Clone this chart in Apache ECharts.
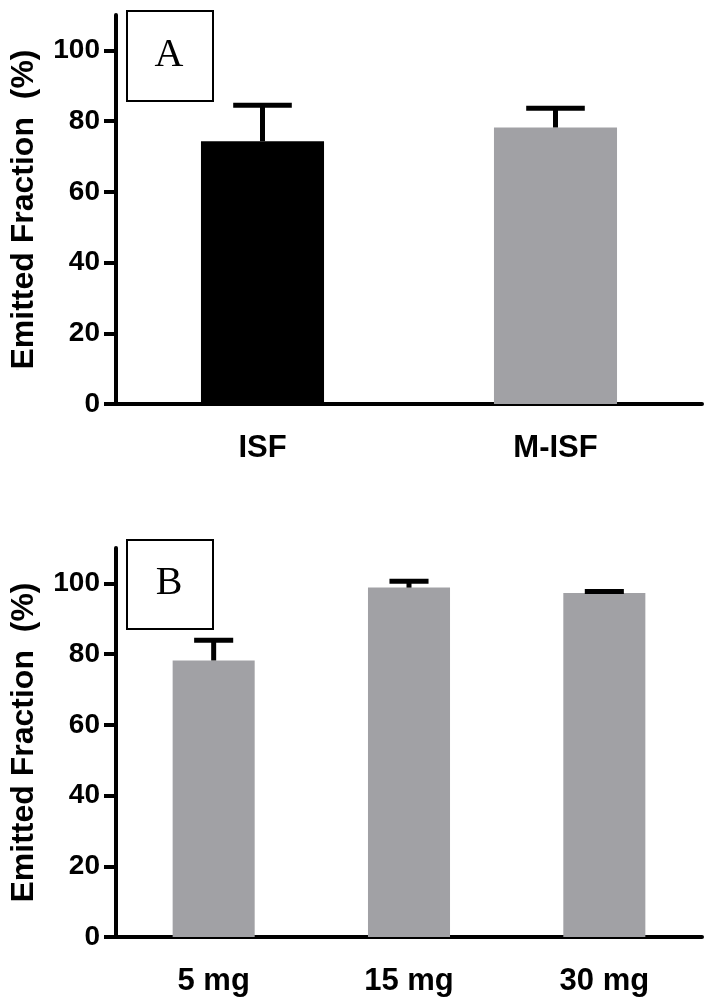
<!DOCTYPE html>
<html>
<head>
<meta charset="utf-8" />
<title>Emitted Fraction</title>
<script type="text/javascript" src="https://cdn.jsdelivr.net/npm/echarts@6/dist/echarts.min.js"></script>
<style>
  html, body { margin: 0; padding: 0; background: #fff; }
  #main { width: 711px; height: 1008px; }
</style>
</head>
<body>
<div id="main"></div>
<script>
// panel A
var catsA = ['ISF', 'M-ISF'];
var meanA = [74.3, 78.2];
var sdA = [10.2, 5.4];
var colorA = ['#000000', '#a1a1a5'];

// panel B
var catsB = ['5 mg', '15 mg', '30 mg'];
var meanB = [78.2, 98.8, 97.3];
var sdB = [5.7, 1.8, 0.4];

var yTicks = [0, 20, 40, 60, 80, 100];

var font = 'Liberation Sans, Arial, sans-serif';
var chart = echarts.init(document.getElementById('main'));

function xAxisOf(idx, cats) {
  return {
    type: 'category', gridIndex: idx, data: cats,
    axisLine: { lineStyle: { color: '#000', width: 4 } },
    axisTick: { alignWithLabel: true, length: 12, lineStyle: { color: '#000', width: 4 } },
    axisLabel: { color: '#000', fontFamily: font, fontWeight: 'bold', fontSize: 31, margin: 29 }
  };
}

function yAxisOf(idx) {
  return {
    type: 'value', gridIndex: idx, min: 0, max: 110, interval: 20,
    name: 'Emitted Fraction  (%)', nameLocation: 'middle', nameGap: 76,
    nameTextStyle: { color: '#000', fontFamily: font, fontWeight: 'bold', fontSize: 32 },
    axisLine: { show: true, lineStyle: { color: '#000', width: 4 } },
    axisTick: { show: true, length: 12, customValues: yTicks, lineStyle: { color: '#000', width: 4 } },
    axisLabel: { color: '#000', fontFamily: font, fontWeight: 'bold', fontSize: 28, margin: 16, customValues: yTicks },
    splitLine: { show: false }
  };
}

// 误差线
function errorRender(params, api) {
  var i = api.value(0);
  var top = api.coord([i, api.value(1) + api.value(2)]);
  var base = api.coord([i, api.value(1)]);
  var half = api.size([1, 0])[0] * 0.1;
  var st = { stroke: '#000', lineWidth: 5 };
  return {
    type: 'group',
    children: [
      { type: 'line', shape: { x1: top[0], y1: base[1], x2: top[0], y2: top[1] }, style: st },
      { type: 'line', shape: { x1: top[0] - half, y1: top[1], x2: top[0] + half, y2: top[1] }, style: st }
    ]
  };
}

function errData(means, sds) {
  var out = [];
  for (var i = 0; i < means.length; i++) out.push([i, means[i], sds[i]]);
  return out;
}

var barsA = [];
for (var i = 0; i < meanA.length; i++) {
  barsA.push({ value: meanA[i], itemStyle: { color: colorA[i] } });
}

function boxLabel(x, y, h, txt) {
  return [
    { type: 'rect', left: x, top: y, shape: { width: 86, height: h },
      style: { fill: '#fff', stroke: '#000', lineWidth: 2 }, z: 10 },
    { type: 'text', x: x + 43, y: y + h / 2, z: 11,
      style: { text: txt, fill: '#000', font: '40px "Liberation Serif", "Times New Roman", serif',
               textAlign: 'center', textVerticalAlign: 'middle' } }
  ];
}

chart.setOption({
  backgroundColor: '#fff',
  animation: false,
  grid: [
    { left: 115, top: 15, width: 587, height: 389 },
    { left: 115, top: 548, width: 587, height: 389 }
  ],
  xAxis: [xAxisOf(0, catsA), xAxisOf(1, catsB)],
  yAxis: [yAxisOf(0), yAxisOf(1)],
  graphic: boxLabel(126, 10, 90, 'A').concat(boxLabel(126, 539, 89, 'B')),
  series: [
    { type: 'bar', xAxisIndex: 0, yAxisIndex: 0, barWidth: '42%', data: barsA },
    { type: 'custom', xAxisIndex: 0, yAxisIndex: 0, renderItem: errorRender, data: errData(meanA, sdA), z: 5 },
    { type: 'bar', xAxisIndex: 1, yAxisIndex: 1, barWidth: '42%', itemStyle: { color: '#a1a1a5' }, data: meanB },
    { type: 'custom', xAxisIndex: 1, yAxisIndex: 1, renderItem: errorRender, data: errData(meanB, sdB), z: 5 }
  ]
});
</script>
</body>
</html>
